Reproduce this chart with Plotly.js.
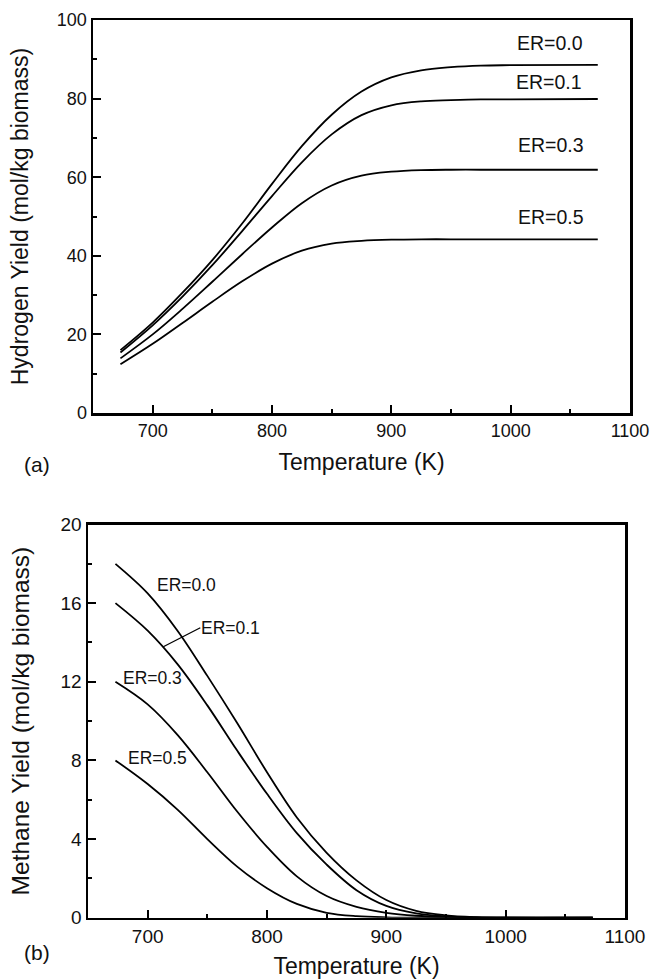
<!DOCTYPE html>
<html>
<head>
<meta charset="utf-8">
<script src="https://cdn.plot.ly/plotly-3.0.1.min.js"></script>
<style>
  html, body { margin: 0; padding: 0; background: #fff; }
  #chart { width: 653px; height: 979px; }
</style>
</head>
<body>
<div id="chart"></div>
<script>
// Temperature grid (K)
const temperature = [673, 700, 725, 750, 775, 800, 825, 850, 875, 900, 925, 950, 975, 1000, 1073];

// (a) Hydrogen yield (mol/kg biomass)
const h2_er00 = [16.0, 23.0, 30.6, 38.9, 48.2, 58.3, 67.9, 75.9, 81.8, 85.4, 87.2, 88.0, 88.4, 88.5, 88.6];
const h2_er01 = [15.4, 22.3, 29.6, 37.6, 46.3, 55.2, 63.8, 70.9, 75.8, 78.3, 79.3, 79.6, 79.8, 79.8, 79.9];
const h2_er03 = [13.9, 20.0, 26.5, 33.4, 40.4, 47.2, 53.4, 57.9, 60.4, 61.4, 61.8, 61.9, 61.9, 61.9, 61.9];
const h2_er05 = [12.4, 17.6, 22.9, 28.3, 33.5, 38.0, 41.3, 43.1, 43.8, 44.1, 44.2, 44.2, 44.2, 44.2, 44.2];

// (b) Methane yield (mol/kg biomass)
const ch4_er00 = [18.0, 16.5, 14.6, 12.3, 9.9, 7.4, 5.1, 3.3, 1.9, 0.9, 0.35, 0.12, 0.03, 0.0, 0.0];
const ch4_er01 = [16.0, 14.6, 12.9, 10.8, 8.5, 6.3, 4.3, 2.7, 1.4, 0.6, 0.22, 0.07, 0.02, 0.0, 0.0];
const ch4_er03 = [12.0, 10.85, 9.3, 7.4, 5.4, 3.6, 2.1, 1.1, 0.55, 0.25, 0.1, 0.03, 0.0, 0.0, 0.0];
const ch4_er05 = [8.0, 6.8, 5.5, 4.0, 2.6, 1.5, 0.7, 0.25, 0.08, 0.02, 0.0, 0.0, 0.0, 0.0, 0.0];

const xTicks = [700, 800, 900, 1000, 1100];
const xMinor = [750, 850, 950, 1050];
const yTicksA = [0, 20, 40, 60, 80, 100];
const yMinorA = [10, 30, 50, 70, 90];
const yTicksB = [0, 4, 8, 12, 16, 20];
const yMinorB = [2, 6, 10, 14, 18];

const FONT = 'Arial, "Liberation Sans", Helvetica, sans-serif';
const TXT = '#111';
const lineStyle = {color: '#000', width: 1.8, shape: 'spline', smoothing: 1};

function tr(y, xa, ya) {
  return {x: temperature, y: y, xaxis: xa, yaxis: ya, type: 'scatter', mode: 'lines',
          line: lineStyle, hoverinfo: 'skip', showlegend: false};
}

const data = [
  tr(h2_er00, 'x', 'y'), tr(h2_er01, 'x', 'y'), tr(h2_er03, 'x', 'y'), tr(h2_er05, 'x', 'y'),
  tr(ch4_er00, 'x2', 'y2'), tr(ch4_er01, 'x2', 'y2'), tr(ch4_er03, 'x2', 'y2'), tr(ch4_er05, 'x2', 'y2')
];

function xAxis(domain, anchor, tickSize, titleSize, standoff) {
  return {
    domain: domain, anchor: anchor, range: [650, 1100],
    tickvals: xTicks, ticktext: xTicks.map(String),
    ticks: 'inside', ticklen: 8, tickwidth: 2, tickcolor: '#000',
    minor: {tickvals: xMinor, ticks: 'inside', ticklen: 4, tickwidth: 2, tickcolor: '#000'},
    showline: true, linecolor: '#000', linewidth: 2.5, mirror: true,
    showgrid: false, zeroline: false,
    tickfont: {family: FONT, size: tickSize, color: TXT},
    title: {text: 'Temperature (K)', font: {family: FONT, size: titleSize, color: TXT}, standoff: standoff},
    automargin: false
  };
}
function yAxis(domain, anchor, ticks, minorTicks, range, title, tickSize, titleSize, standoff) {
  return {
    domain: domain, anchor: anchor, range: range,
    tickvals: ticks, ticktext: ticks.map(String),
    ticks: 'inside', ticklen: 8, tickwidth: 2, tickcolor: '#000',
    minor: {tickvals: minorTicks, ticks: 'inside', ticklen: 4, tickwidth: 2, tickcolor: '#000'},
    showline: true, linecolor: '#000', linewidth: 2.5, mirror: true,
    showgrid: false, zeroline: false,
    tickfont: {family: FONT, size: tickSize, color: TXT},
    title: {text: title, font: {family: FONT, size: titleSize, color: TXT}, standoff: standoff},
    automargin: false
  };
}

const W = 653, H = 979;
const annA = {family: FONT, size: 19.5, color: TXT};
const annB = {family: FONT, size: 17.5, color: TXT};
const layout = {
  width: W, height: H,
  margin: {l: 0, r: 0, t: 0, b: 0},
  paper_bgcolor: '#fff', plot_bgcolor: '#fff',
  showlegend: false,
  xaxis: xAxis([93 / W, 630 / W], 'y', 18, 23, 14),
  yaxis: yAxis([1 - 413 / H, 1 - 20 / H], 'x', yTicksA, yMinorA, [0, 100], 'Hydrogen Yield (mol/kg biomass)', 18, 23, 22),
  xaxis2: xAxis([88 / W, 625 / W], 'y2', 19, 23, 14),
  yaxis2: yAxis([1 - 917.7 / H, 1 - 524.5 / H], 'x2', yTicksB, yMinorB, [0, 20], 'Methane Yield (mol/kg biomass)', 19, 24.5, 24),
  annotations: [
    {xref: 'x', yref: 'y', x: 1033, y: 94.1, text: 'ER=0.0', showarrow: false, font: annA},
    {xref: 'x', yref: 'y', x: 1032, y: 84.3, text: 'ER=0.1', showarrow: false, font: annA},
    {xref: 'x', yref: 'y', x: 1034, y: 68.2, text: 'ER=0.3', showarrow: false, font: annA},
    {xref: 'x', yref: 'y', x: 1034, y: 49.8, text: 'ER=0.5', showarrow: false, font: annA},
    {xref: 'x2', yref: 'y2', x: 732.4, y: 16.92, text: 'ER=0.0', showarrow: false, font: annB},
    {xref: 'x2', yref: 'y2', x: 713.1, y: 13.78, text: 'ER=0.1', showarrow: true, arrowhead: 0, arrowwidth: 1.3, arrowcolor: '#000',
     ax: 37, ay: -19, xanchor: 'left', yanchor: 'middle', borderpad: 0, font: annB},
    {xref: 'x2', yref: 'y2', x: 703.8, y: 12.18, text: 'ER=0.3', showarrow: false, font: annB},
    {xref: 'x2', yref: 'y2', x: 708.5, y: 8.11, text: 'ER=0.5', showarrow: false, font: annB},
    {xref: 'paper', yref: 'paper', x: 22 / W, y: 1 - 464 / H, text: '(a)', showarrow: false, font: {family: FONT, size: 21, color: TXT}},
    {xref: 'paper', yref: 'paper', x: 22 / W, y: 1 - 966 / H, text: '(b)', showarrow: false, font: {family: FONT, size: 21, color: TXT}}
  ]
};

Plotly.newPlot('chart', data, layout, {displayModeBar: false, staticPlot: true});
</script>
</body>
</html>
